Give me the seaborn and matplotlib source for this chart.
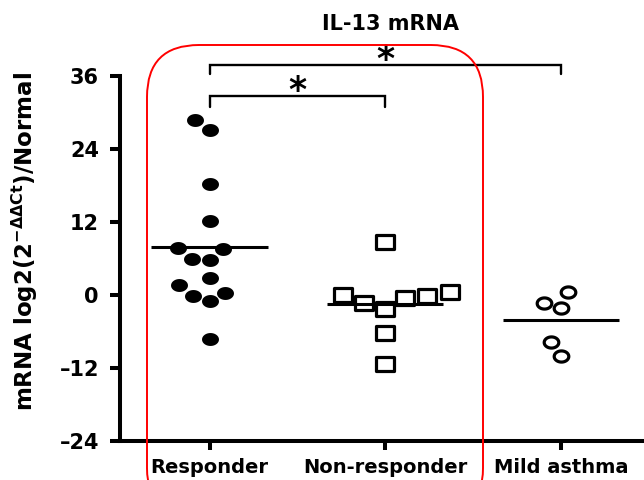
import numpy as np
import pandas as pd
import matplotlib
matplotlib.use("Agg")
import matplotlib.pyplot as plt
from matplotlib.path import Path
from matplotlib.patches import FancyBboxPatch
from matplotlib.transforms import IdentityTransform
from matplotlib.ticker import FuncFormatter
import seaborn as sns

# IL-13 mRNA, log2 fold change relative to normal controls
groups = ["Responder", "Non-responder", "Mild asthma"]
responder = [28.75, 27.1, 18.2, 12.1, 7.6, 7.5, 5.8, 5.7, 2.8, 1.6, -0.15, 0.25, -1.1, -7.3]
non_responder = [8.7, -0.2, -0.6, -2.4, -1.3, -0.05, 0.5, -6.3, -11.4]
mild_asthma = [-1.3, -2.2, 0.5, -7.7, -10.1]
y_ticks = [-24, -12, 0, 12, 24, 36]
comparisons = [("Responder", "Non-responder", "*"), ("Responder", "Mild asthma", "*")]

df = pd.DataFrame({
    "group": ["Responder"] * len(responder)
    + ["Non-responder"] * len(non_responder)
    + ["Mild asthma"] * len(mild_asthma),
    "value": responder + non_responder + mild_asthma,
})

sns.set_style("ticks")
plt.rcParams["font.family"] = ["DejaVu Sans"]
plt.rcParams["font.weight"] = "bold"
plt.rcParams["mathtext.fontset"] = "dejavusans"
plt.rcParams["mathtext.default"] = "bf"
for key in ["text.color", "axes.labelcolor", "xtick.color", "ytick.color",
            "xtick.labelcolor", "ytick.labelcolor", "axes.edgecolor"]:
    plt.rcParams[key] = "black"

fig = plt.figure(figsize=(6.44, 4.80), dpi=100)
ax = fig.add_axes([120 / 644, 39.3 / 480, 524 / 644, 365 / 480])


def ellipse_path(aspect):
    t = np.linspace(0, 2 * np.pi, 73)
    return Path(np.column_stack([np.cos(t), np.sin(t) / aspect]), closed=True)


def rect_path(aspect):
    h = 1 / aspect
    return Path([(-1, -h), (1, -h), (1, h), (-1, h), (-1, -h)], closed=True)


styles = {
    "Responder": dict(marker=ellipse_path(1.31), size=12.2, color="black", linewidth=0),
    "Non-responder": dict(marker=rect_path(1.33), size=13.2, color="white",
                          edgecolor="black", linewidth=2.3),
    "Mild asthma": dict(marker=ellipse_path(1.31), size=10.5, color="white",
                        edgecolor="black", linewidth=2.3),
}
for g in groups:
    sns.swarmplot(data=df[df["group"] == g], x="group", y="value", order=groups,
                  ax=ax, zorder=2, **styles[g])

# group means
means = df.groupby("group")["value"].mean().reindex(groups)
pos = np.arange(len(groups))
ax.hlines(means.values, pos - 0.33, pos + 0.33, color="black", lw=2.2, zorder=3)

# axes styling
ax.set_ylim(-24, 36)
ax.set_yticks(y_ticks)
ax.yaxis.set_major_formatter(FuncFormatter(lambda v, p: f"{int(v)}".replace("-", "\u2013")))
ax.set_xlim(-0.509, 2.47)
ax.set_xlabel("")
ax.set_ylabel(r"mRNA log2(2$^{-\Delta\Delta Ct}$)/Normal", fontsize=16.5, fontweight="bold")
ax.yaxis.set_label_coords(-0.152, 0.546)
sns.despine(ax=ax)
for s in ["left", "bottom"]:
    ax.spines[s].set_linewidth(2.9)
    ax.spines[s].set_color("black")
ax.tick_params(axis="y", length=7.2, width=2.9, pad=8, labelsize=15, color="black")
ax.tick_params(axis="x", length=6.5, width=2.9, pad=6, labelsize=14, color="black")

# significance brackets
bracket_top = [32.7, 37.8]
bracket_drop = [1.8, 1.6]
star_base = [31.9, 36.9]
for (a, b, mark), top, drop, sb in zip(comparisons, bracket_top, bracket_drop, star_base):
    xa, xb = groups.index(a), groups.index(b)
    ax.plot([xa, xa, xb, xb], [top - drop, top, top, top - drop], color="black",
            lw=1.7, clip_on=False, solid_joinstyle="miter")
    ax.text((xa + xb) / 2, sb, mark, ha="center", va="baseline", fontsize=25,
            fontweight="bold", clip_on=False)

fig.text(390 / 644, 1 - 30 / 480, "IL-13 mRNA", ha="center", va="baseline",
         fontsize=15, fontweight="bold")

# highlight frame around the severe-asthma groups
fig.add_artist(FancyBboxPatch((147, -40), 336, 475,
                              boxstyle="round,pad=0,rounding_size=52",
                              transform=IdentityTransform(), fill=False,
                              ec="red", lw=1.4, zorder=10, clip_on=False))

fig.savefig("out.png", dpi=100)
